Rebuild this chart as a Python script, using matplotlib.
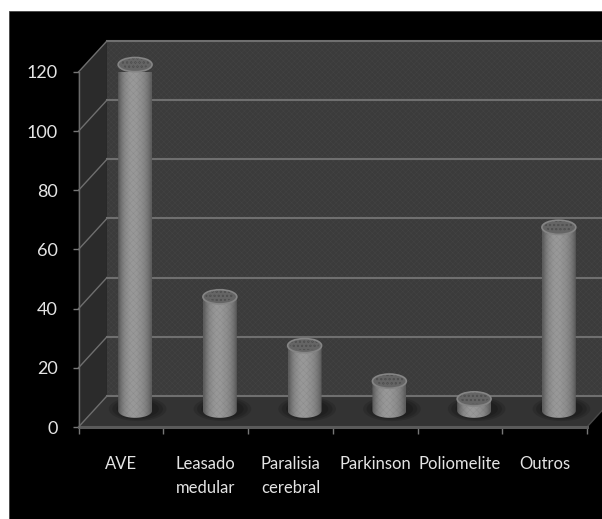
import numpy as np
import matplotlib
matplotlib.use("Agg")
import matplotlib.pyplot as plt
from matplotlib.patches import Polygon, Ellipse, Rectangle, PathPatch
from matplotlib.path import Path

categories = ["AVE", "Leasado\nmedular", "Paralisia\ncerebral", "Parkinson", "Poliomelite", "Outros"]
values = [117, 38.5, 22, 10, 4, 62]
y_ticks = [0, 20, 40, 60, 80, 100, 120]

plt.rcParams["font.family"] = ["Lato", "Liberation Sans", "DejaVu Sans"]
plt.rcParams["hatch.linewidth"] = 0.35

W, H = 602, 519
fig = plt.figure(figsize=(W / 100, H / 100), dpi=100, facecolor="white")
fig.add_artist(Rectangle((9 / W, 0), 1, 1 - 11 / H, transform=fig.transFigure,
                         facecolor="black", edgecolor="#444444", lw=0.6, zorder=-5))

ax = fig.add_axes([78.5 / W, (H - 427) / H, (587 - 78.5) / W, (427 - 72) / H])
ax.patch.set_visible(False)
for s in ax.spines.values():
    s.set_visible(False)

n = len(categories)
# depth of the 3D box in data units
DX, DY = 0.336, 10.5
YMAX = y_ticks[-1]
GRID = "#6f6f6f"

# back wall, side wall and floor
ax.add_patch(Polygon([(DX, DY), (n + 1, DY), (n + 1, YMAX + DY), (DX, YMAX + DY)],
                     facecolor="#3b3b3b", edgecolor="#434343", hatch="xxxxxx", lw=0, clip_on=False, zorder=1))
ax.add_patch(Polygon([(0, 0), (DX, DY), (DX, YMAX + DY), (0, YMAX)],
                     facecolor="#2b2b2b", edgecolor="none", clip_on=False, zorder=1))
ax.add_patch(Polygon([(0, 0), (n, 0), (n + DX, DY), (DX, DY)],
                     facecolor="#333333", edgecolor="none", clip_on=False, zorder=1))

# gridlines across the wall and the side wall
for t in y_ticks:
    ax.plot([DX, n + 1], [t + DY, t + DY], color=GRID, lw=1.5, clip_on=False, zorder=2)
    ax.plot([0, DX], [t, t + DY], color=GRID, lw=1.0, clip_on=False, zorder=2)
ax.plot([n, n + DX], [0, DY], color="#4a4a4a", lw=1.0, clip_on=False, zorder=2)
ax.plot([0, n], [0, 0], color="#5a5a5a", lw=2.2, clip_on=False, zorder=2)
ax.plot([0, 0], [0, YMAX], color="#6a6a6a", lw=1.0, clip_on=False, zorder=2)

# cylinders
RX, RY = 0.2, 2.4
BASE = 5.5
shade = np.array([0.36, 0.42, 0.47, 0.51, 0.54, 0.56, 0.58, 0.59, 0.60, 0.60, 0.60,
                  0.59, 0.58, 0.57, 0.56, 0.54, 0.52, 0.49, 0.46, 0.42, 0.36]).reshape(1, -1)

for i, v in enumerate(values):
    cx = i + 0.5 + DX / 2
    top = BASE + v
    # soft shadow on the floor
    for scale, a in ((1.7, 0.25), (1.5, 0.3), (1.25, 0.45)):
        ax.add_patch(Ellipse((cx + 0.03, BASE + 0.6), 2 * RX * scale, 2 * RY * scale,
                             facecolor="#181818", edgecolor="none", alpha=a, zorder=3, clip_on=False))
    t = np.linspace(np.pi, 2 * np.pi, 40)
    outline = np.column_stack([cx + RX * np.cos(t), BASE + RY * np.sin(t)])
    verts = np.vstack([outline, [[cx + RX, top], [cx - RX, top], outline[0]]])
    body = Path(verts, closed=False)
    img = ax.imshow(shade, cmap="gray", vmin=0, vmax=1, aspect="auto", interpolation="bicubic",
                    extent=(cx - RX, cx + RX, BASE - RY, top), zorder=4)
    img.set_clip_path(PathPatch(body, transform=ax.transData))
    ax.add_patch(PathPatch(body, facecolor="none", edgecolor=(0.3, 0.3, 0.3, 0.16),
                           hatch="xxxxx", lw=0, zorder=5, clip_on=False))
    ax.add_patch(Ellipse((cx, top), 2 * RX, 2 * RY, facecolor="#656565", edgecolor="#858585",
                         lw=1.2, zorder=6, clip_on=False))
    ax.add_patch(Ellipse((cx, top + 0.3), 1.7 * RX, 1.5 * RY, facecolor="none",
                         edgecolor=(0.25, 0.25, 0.25, 0.5), hatch="oooo", lw=0, zorder=7, clip_on=False))

# Ticks sit on the category boundaries, labels between them
ax.set_xlim(0, n)
ax.set_ylim(0, YMAX)
ax.set_xticks(np.arange(n + 1))
ax.set_xticklabels([])
ax.set_xticks(np.arange(n) + 0.5, minor=True)
ax.set_xticklabels(categories, minor=True, color="#e4e4e4", fontsize=12, linespacing=1.6, va="top")
ax.tick_params(axis="x", which="major", length=5, width=1, color="#777777", direction="out")
ax.tick_params(axis="x", which="minor", length=0, pad=21)
ax.set_yticks(y_ticks)
ax.set_yticklabels([str(t) for t in y_ticks], color="#e4e4e4", fontsize=13)
ax.tick_params(axis="y", length=4, width=1, color="#777777", pad=11)

fig.savefig("out.png", dpi=100, facecolor="white")
